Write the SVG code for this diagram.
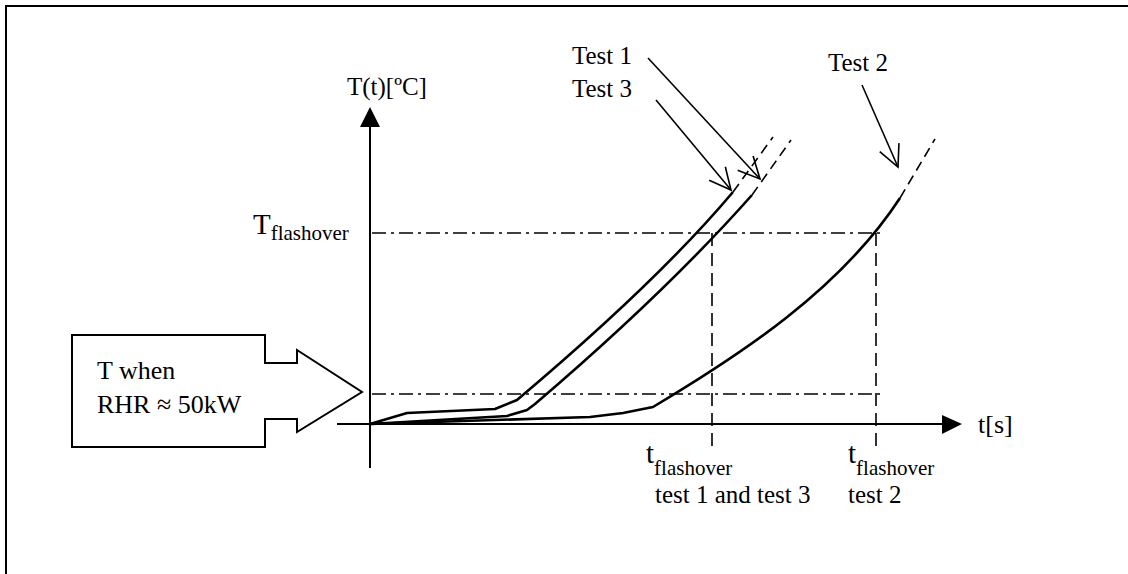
<svg xmlns="http://www.w3.org/2000/svg" width="1128" height="574" viewBox="0 0 1128 574">
<style>
text{font-family:"Liberation Serif","Times New Roman",serif;fill:#000}
.lbl{font-size:25px}
.big{font-size:29px}
.sub{font-size:21px}
.axis{stroke:#000;stroke-width:2;fill:none}
.curve{stroke:#000;stroke-width:2.6;fill:none;stroke-linejoin:round}
.ext{stroke:#000;stroke-width:1.6;fill:none;stroke-dasharray:10 6}
.dashdot{stroke:#000;stroke-width:1.6;fill:none;stroke-dasharray:14 5 3 5}
.dash{stroke:#000;stroke-width:1.6;fill:none;stroke-dasharray:13 7}
.leader{stroke:#000;stroke-width:1.6;fill:none;marker-end:url(#open)}
</style>
<defs>
<marker id="open" markerUnits="userSpaceOnUse" viewBox="-25 -15 30 30" markerWidth="30" markerHeight="30" refX="0" refY="0" orient="auto" overflow="visible">
<path d="M-21.5,-10.5 L0,0 L-21.5,10.5" fill="none" stroke="#000" stroke-width="1.6"/>
</marker>
</defs>
<rect x="6" y="6" width="1200" height="700" fill="#fff" stroke="#000" stroke-width="2"/>

<g id="axes">
<line class="axis" x1="370" y1="468" x2="370" y2="125"/>
<polygon points="370,107 360,127 380,127" fill="#000"/>
<line class="axis" x1="337" y1="424" x2="944" y2="424"/>
<polygon points="962,424 942,415 942,434" fill="#000"/>
<text class="lbl" x="347" y="95">T(t)[ºC]</text>
<text class="lbl" x="978" y="433" style="font-size:26px">t[s]</text>
</g>

<g id="guides">
<line class="dashdot" x1="372" y1="233" x2="885" y2="233"/>
<line class="dashdot" x1="372" y1="394" x2="885" y2="394"/>
<line class="dash" x1="712" y1="233" x2="712" y2="448"/>
<line class="dash" x1="876" y1="233" x2="876" y2="448"/>
</g>

<g id="curve-test3">
<path class="curve" d="M370,424 L407,413 L495,409 L517,400 C600,330 680,255 733,192"/>
<path class="ext" d="M733,192 L773,137"/>
</g>
<g id="curve-test1">
<path class="curve" d="M370,424 L507,416 L527,410 L535,404 C610,340 690,265 752,195"/>
<path class="ext" d="M752,195 L791,140"/>
</g>
<g id="curve-test2">
<path class="curve" d="M370,424 L590,417 L623,413 L653,407 C740,355 840,290 900,198"/>
<path class="ext" d="M900,198 L935,139"/>
</g>

<g id="label-test1">
<text class="lbl" x="572" y="64">Test 1</text>
</g>
<g id="label-test3">
<text class="lbl" x="572" y="97">Test 3</text>
</g>
<g id="label-test2">
<text class="lbl" x="828" y="71">Test 2</text>
</g>

<g id="connectors">
<line class="leader" x1="648" y1="58" x2="760" y2="179"/>
<line class="leader" x1="656" y1="100" x2="731" y2="190"/>
<line class="leader" x1="862" y1="85" x2="898" y2="167"/>
</g>

<g id="tflash-label">
<text x="253" y="234"><tspan class="big">T</tspan><tspan class="sub" dy="6">flashover</tspan></text>
</g>

<g id="rhr-box">
<polygon points="72,335 265,335 265,363 297,363 297,350 362,392 297,432 297,419 265,419 265,447 72,447" fill="#fff" stroke="#000" stroke-width="2"/>
<text class="lbl" x="97" y="379" style="font-size:26px">T when</text>
<text class="lbl" x="97" y="413" style="font-size:26px">RHR ≈ 50kW</text>
</g>

<g id="t13-label">
<text x="646" y="463"><tspan class="big">t</tspan><tspan class="sub" dy="12">flashover</tspan></text>
<text class="lbl" x="655" y="503">test 1 and test 3</text>
</g>
<g id="t2-label">
<text x="848" y="463"><tspan class="big">t</tspan><tspan class="sub" dy="12">flashover</tspan></text>
<text class="lbl" x="848" y="503">test 2</text>
</g>
</svg>
